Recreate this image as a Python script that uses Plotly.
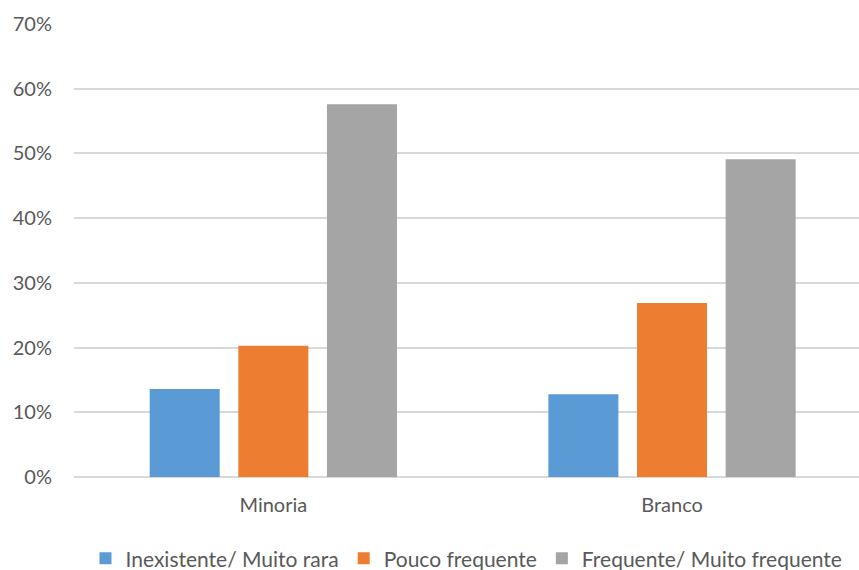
import plotly.graph_objects as go

categories = ["Minoria", "Branco"]
series_names = ["Inexistente/ Muito rara", "Pouco frequente", "Frequente/ Muito frequente"]
inexistente = [0.136, 0.128]
pouco = [0.203, 0.269]
frequente = [0.576, 0.491]
colors = ["#5B9BD5", "#ED7D31", "#A5A5A5"]
y_ticks = [0, 0.1, 0.2, 0.3, 0.4, 0.5, 0.6, 0.7]

fig = go.Figure()
for name, vals, col in zip(series_names, [inexistente, pouco, frequente], colors):
    fig.add_trace(go.Bar(x=[0, 1], y=vals, name=name, marker=dict(color=col, line=dict(width=0))))

fig.update_layout(
    width=859, height=570,
    paper_bgcolor="white", plot_bgcolor="white",
    margin=dict(l=74, r=0, t=24, b=93, autoexpand=False),
    barmode="group", bargap=0.333, bargroupgap=0.21,
    font=dict(family="Lato", color="#595959", size=20),
    xaxis=dict(tickmode="array", tickvals=[0, 1], ticktext=categories,
               range=[-0.5, 1.469], showgrid=False, zeroline=False,
               showline=False, ticks="", tickfont=dict(size=20),
               ticklabelstandoff=14),
    yaxis=dict(range=[0, 0.7], tickvals=y_ticks, tickformat=".0%",
               showgrid=True, gridcolor="#D9D9D9", gridwidth=1.5,
               zeroline=True, zerolinecolor="#D9D9D9", zerolinewidth=1.5,
               ticks="", tickfont=dict(size=20), ticklabelstandoff=21),
    legend=dict(orientation="h", x=0.5, xanchor="center", y=-0.135, yanchor="top",
                font=dict(size=21, color="#595959"), itemwidth=30, tracegroupgap=0),
)
fig.write_html("out.html", post_script="document.body.style.margin='0';",
               config={"displayModeBar": False})
